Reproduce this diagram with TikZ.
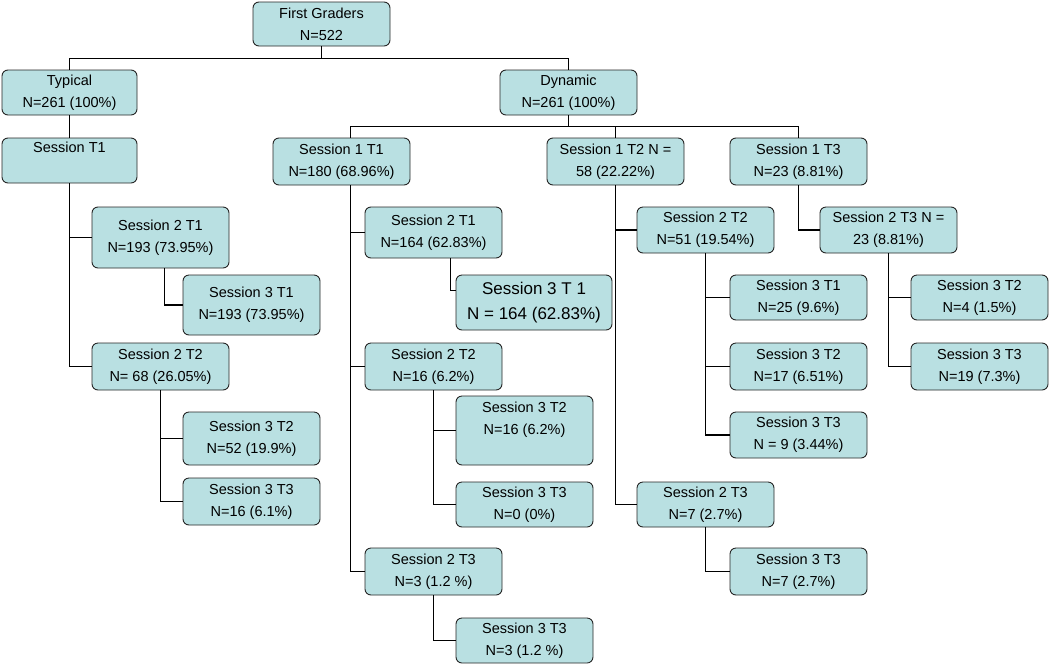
\documentclass[tikz,border=0pt]{standalone}
\usepackage{fontspec}
\setmainfont{Liberation Sans}
\definecolor{boxfill}{HTML}{B9E0E2}
\tikzset{box/.style={draw=black!85,line width=0.9pt,fill=boxfill,rounded corners=6pt,align=center,inner sep=2pt,font=\fontsize{14.5}{22}\selectfont},
 conn/.style={line width=1.8pt}}
\newcommand\bx[7][]{\node[box,#1,minimum width={#5-#3},minimum height={#6-#4}] (#2) at ({(#3+#5)/2},{-(#4+#6)/2}) {#7};}
\begin{document}
\begin{tikzpicture}[x=1pt,y=1pt]
\useasboundingbox (0,0) rectangle (1050,-665);
\bx{fg}{253}{2}{390}{46}{First Graders\\N=522}
\bx{typ}{2}{70}{137}{115}{Typical\\N=261 (100\%)}
\bx{dyn}{500}{70}{637}{115}{Dynamic\\N=261 (100\%)}
\bx{st}{2}{138}{137}{183}{Session T1\\[-2pt]\strut}
\bx{da}{273}{138}{410}{185}{Session 1 T1\\N=180 (68.96\%)}
\bx{db}{547}{138}{684}{185}{Session 1 T2 N =\\58 (22.22\%)}
\bx{dc}{730}{138}{867}{185}{Session 1 T3\\N=23 (8.81\%)}
\bx{ta}{92}{207}{229}{268}{Session 2 T1\\N=193 (73.95\%)}
\bx{taa}{183}{275}{320}{335}{Session 3 T1\\N=193 (73.95\%)}
\bx{tb}{92}{343}{229}{390}{Session 2 T2\\N= 68 (26.05\%)}
\bx{tba}{183}{412}{320}{465}{Session 3 T2\\N=52 (19.9\%)}
\bx{tbb}{183}{478}{320}{525}{Session 3 T3\\N=16 (6.1\%)}
\bx{daa}{365}{207}{502}{258}{Session 2 T1\\N=164 (62.83\%)}
\bx[font=\fontsize{17}{25}\selectfont]{daaa}{456}{275}{612}{330}{Session 3 T 1\\N = 164 (62.83\%)}
\bx{dab}{365}{343}{502}{390}{Session 2 T2\\N=16 (6.2\%)}
\bx{daba}{456}{396}{593}{465}{Session 3 T2\\N=16 (6.2\%)\\[-4pt]\strut}
\bx{dabb}{456}{482}{593}{527}{Session 3 T3\\N=0 (0\%)}
\bx{dac}{365}{548}{502}{595}{Session 2 T3\\N=3 (1.2 \%)}
\bx{daca}{456}{618}{593}{663}{Session 3 T3\\N=3 (1.2 \%)}
\bx{dba}{637}{207}{774}{253}{Session 2 T2\\N=51 (19.54\%)}
\bx{dbaa}{730}{275}{867}{320}{Session 3 T1\\N=25 (9.6\%)}
\bx{dbab}{730}{343}{867}{390}{Session 3 T2\\N=17 (6.51\%)}
\bx{dbac}{730}{412}{867}{458}{Session 3 T3\\N = 9 (3.44\%)}
\bx{dbb}{637}{482}{774}{527}{Session 2 T3\\N=7 (2.7\%)}
\bx{dbba}{730}{548}{867}{595}{Session 3 T3\\N=7 (2.7\%)}
\bx{dca}{820}{207}{957}{253}{Session 2 T3 N =\\23 (8.81\%)}
\bx{dcaa}{911}{275}{1048}{320}{Session 3 T2\\N=4 (1.5\%)}
\bx{dcab}{911}{343}{1048}{390}{Session 3 T3\\N=19 (7.3\%)}
\begin{scope}[on background layer/.try]
\end{scope}
\draw[conn] (fg.south) -- ++(0,-12) -| (typ.north);
\draw[conn] (fg.south) -- ++(0,-12) -| (dyn.north);
\draw[conn] (typ.south) -- (st.north);
\draw[conn] (dyn.south) -- ++(0,-11) -| ([xshift=9pt]da.north);
\draw[conn] (dyn.south) -- ++(0,-11) -| (db.north);
\draw[conn] (dyn.south) -- ++(0,-11) -| (dc.north);
\draw[conn] (st.south) |- (ta.west);
\draw[conn] (st.south) |- (tb.west);
\draw[conn] ([xshift=4pt]ta.south) |- (taa.west);
\draw[conn] (tb.south) |- (tba.west);
\draw[conn] (tb.south) |- (tbb.west);
\draw[conn] ([xshift=9pt]da.south) |- (daa.west);
\draw[conn] ([xshift=9pt]da.south) |- (dab.west);
\draw[conn] ([xshift=9pt]da.south) |- (dac.west);
\draw[conn] ([xshift=17pt]daa.south) |- ([yshift=12pt]daaa.west);
\draw[conn] (dab.south) |- (daba.west);
\draw[conn] (dab.south) |- (dabb.west);
\draw[conn] (dac.south) |- (daca.west);
\draw[conn] (db.south) |- (dba.west);
\draw[conn] (db.south) |- (dbb.west);
\draw[conn] (dba.south) |- (dbaa.west);
\draw[conn] (dba.south) |- (dbab.west);
\draw[conn] (dba.south) |- (dbac.west);
\draw[conn] (dbb.south) |- (dbba.west);
\draw[conn] (dc.south) |- (dca.west);
\draw[conn] (dca.south) |- (dcaa.west);
\draw[conn] (dca.south) |- (dcab.west);
\end{tikzpicture}
\end{document}
